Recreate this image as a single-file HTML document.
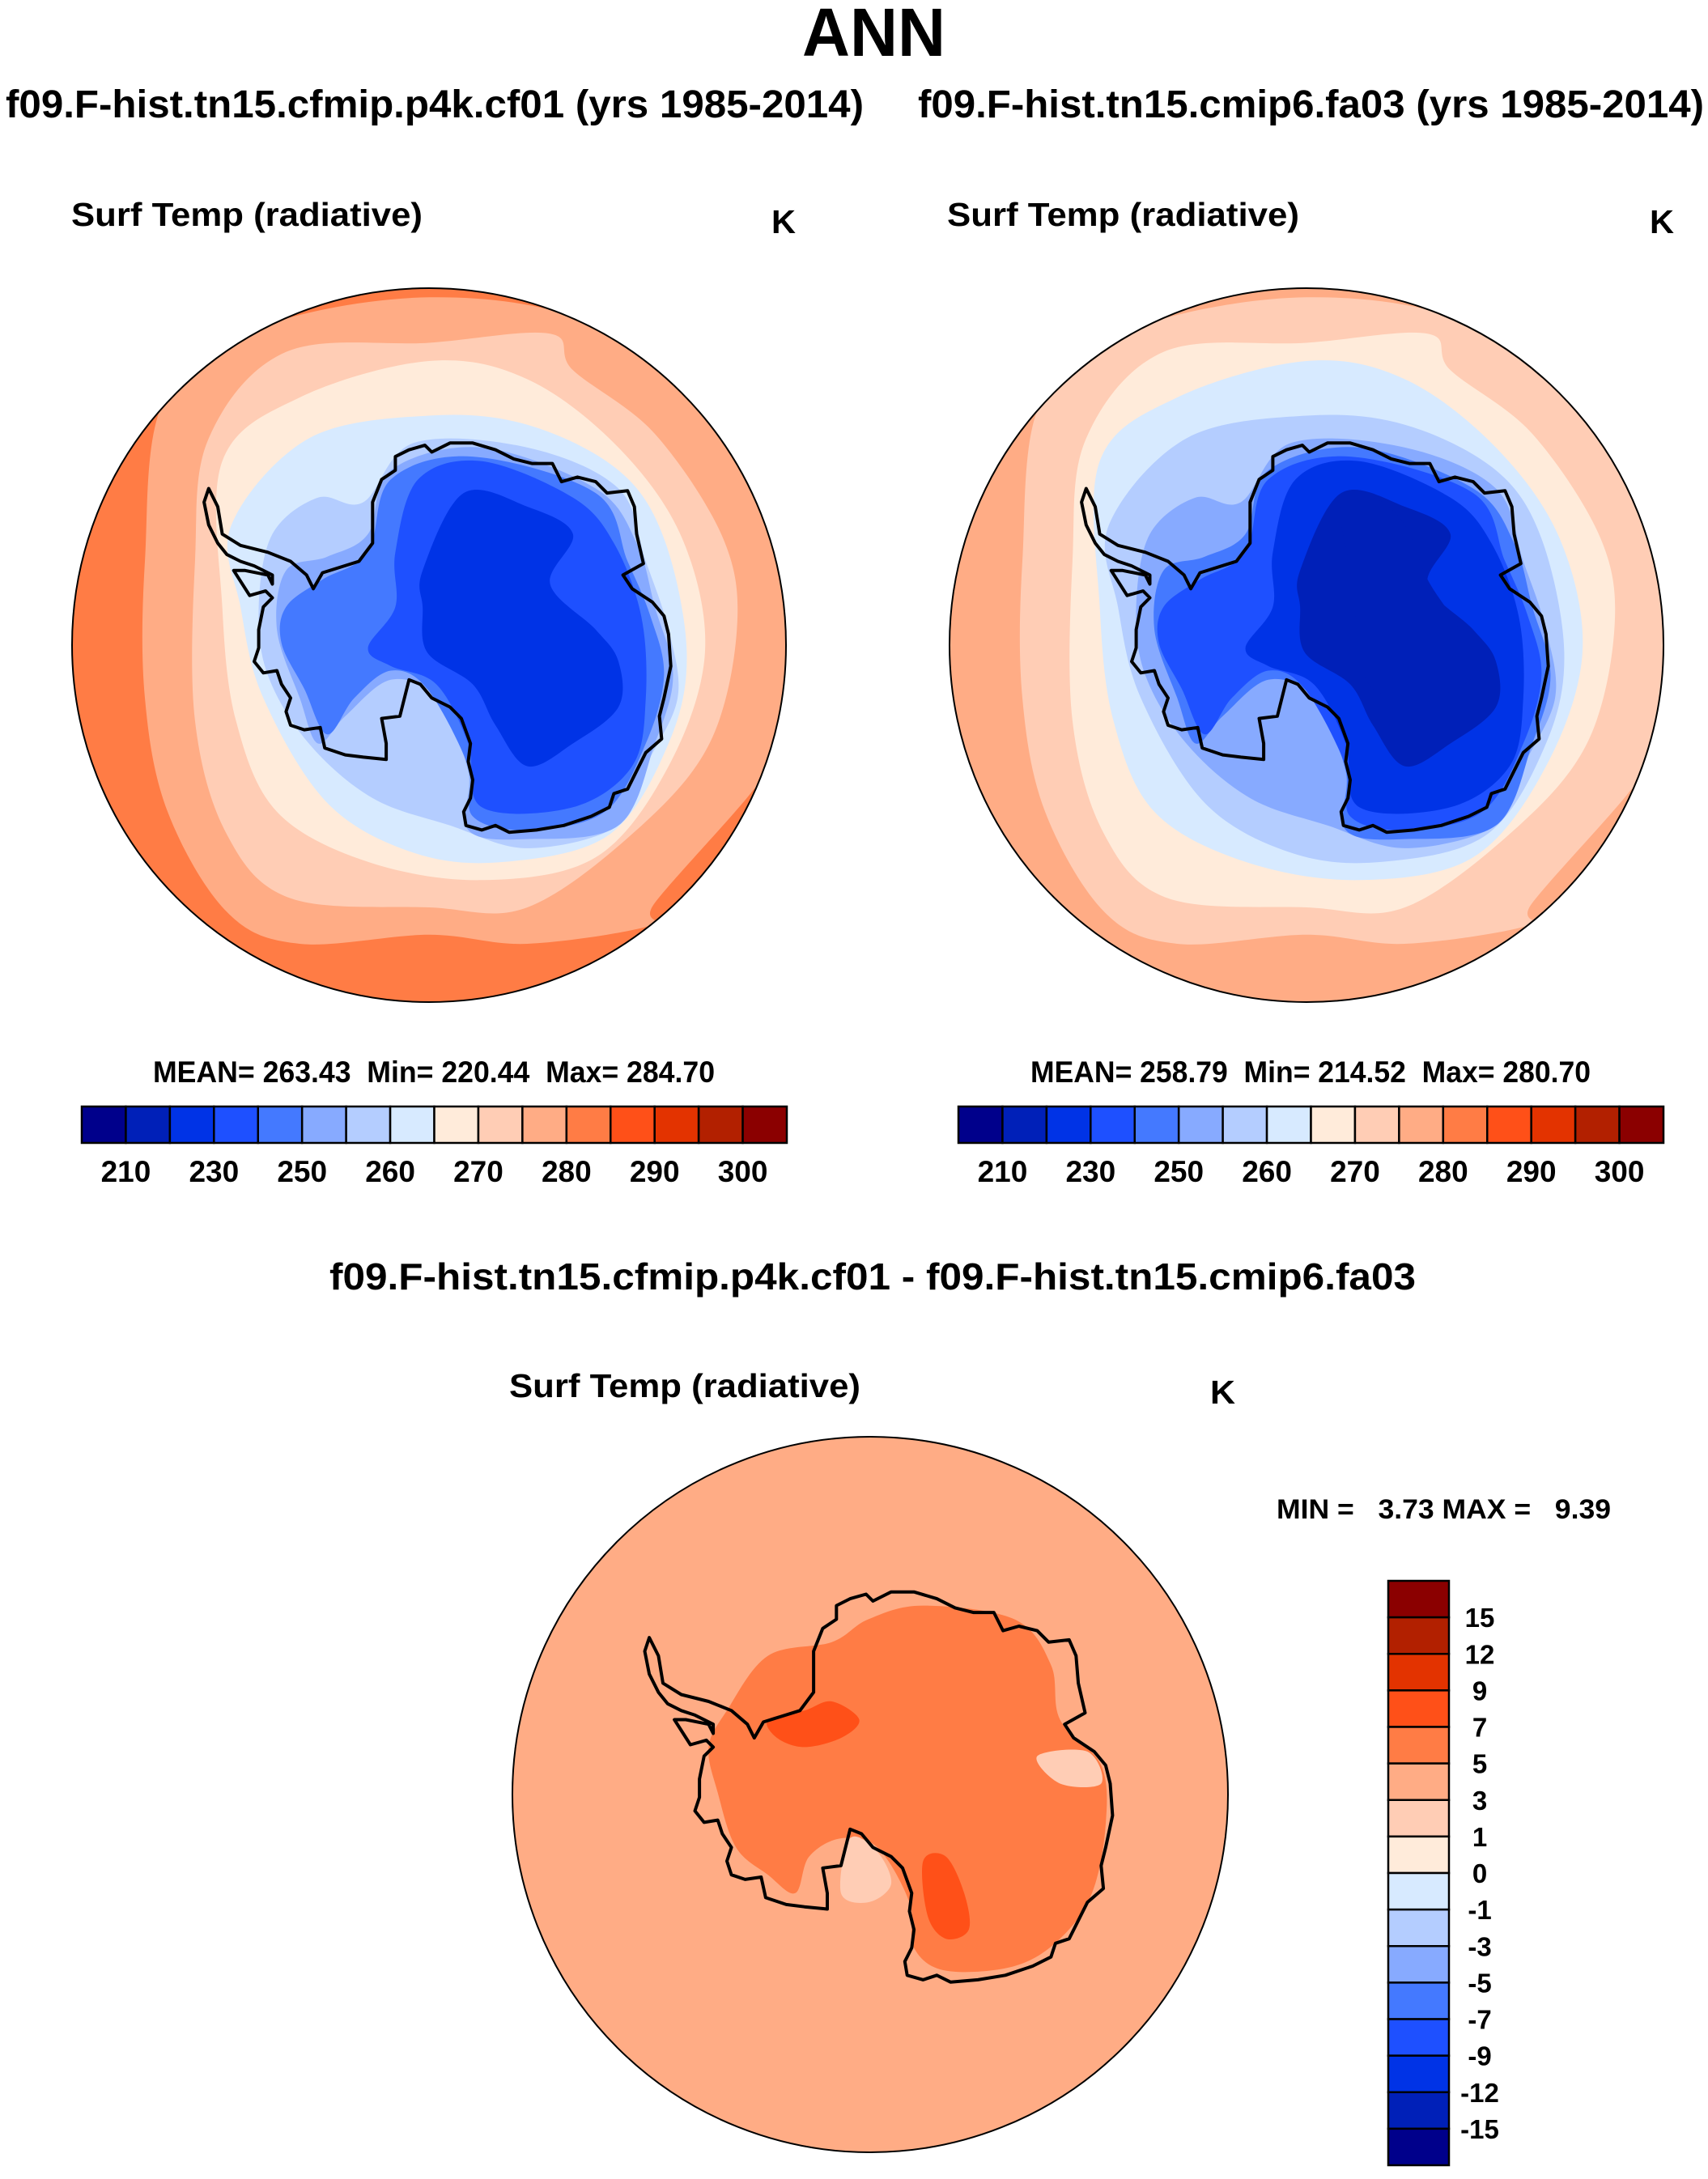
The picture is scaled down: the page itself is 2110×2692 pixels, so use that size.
<!DOCTYPE html>
<html><head><meta charset="utf-8"><style>
html,body{margin:0;padding:0;background:#fff}
svg{display:block}
text{font-family:"Liberation Sans",sans-serif;font-weight:bold;fill:#000}
</style></head><body>
<svg id="fig" width="2110" height="2692" viewBox="0 0 2110 2692" xmlns="http://www.w3.org/2000/svg">
<text x="991" y="69" font-size="84" textLength="177" lengthAdjust="spacingAndGlyphs">ANN</text>
<text x="7" y="145" font-size="48" textLength="1060" lengthAdjust="spacingAndGlyphs">f09.F-hist.tn15.cfmip.p4k.cf01 (yrs 1985-2014)</text>
<text x="1134" y="145" font-size="48" textLength="971" lengthAdjust="spacingAndGlyphs">f09.F-hist.tn15.cmip6.fa03 (yrs 1985-2014)</text>
<text x="88" y="279" font-size="41" textLength="434" lengthAdjust="spacingAndGlyphs">Surf Temp (radiative)</text>
<text x="953" y="288" font-size="41" textLength="30" lengthAdjust="spacingAndGlyphs">K</text>
<text x="1170" y="279" font-size="41" textLength="435" lengthAdjust="spacingAndGlyphs">Surf Temp (radiative)</text>
<text x="2038" y="288" font-size="41" textLength="30" lengthAdjust="spacingAndGlyphs">K</text>
<text x="189" y="1337" font-size="37" textLength="694" lengthAdjust="spacingAndGlyphs" style="white-space:pre">MEAN= 263.43  Min= 220.44  Max= 284.70</text>
<text x="1273" y="1337" font-size="37" textLength="692" lengthAdjust="spacingAndGlyphs" style="white-space:pre">MEAN= 258.79  Min= 214.52  Max= 280.70</text>
<text x="407" y="1593" font-size="46" textLength="1342" lengthAdjust="spacingAndGlyphs">f09.F-hist.tn15.cfmip.p4k.cf01 - f09.F-hist.tn15.cmip6.fa03</text>
<text x="629" y="1726" font-size="41" textLength="434" lengthAdjust="spacingAndGlyphs">Surf Temp (radiative)</text>
<text x="1495" y="1734" font-size="41" textLength="31" lengthAdjust="spacingAndGlyphs">K</text>
<text x="1577" y="1876" font-size="34" textLength="413" lengthAdjust="spacingAndGlyphs" style="white-space:pre">MIN =   3.73 MAX =   9.39</text>
<g id="maps"></g>
<g id="bars"></g>
</svg>
<script>
// Colour levels
const absColors = ["#00008B","#0020B8","#0033E6","#1E50FF","#4479FF","#87AAFF","#B4CDFF","#D7EAFF","#FFEBDA","#FFCDB5","#FFAC85","#FF7C45","#FF5018","#E33300","#B22000","#8B0000"];
const absTickValues = ["210","230","250","260","270","280","290","300"];
const absTickIndex = [1,3,5,7,9,11,13,15];
const diffColors = ["#00008B","#0020B8","#0033E6","#1E50FF","#4479FF","#87AAFF","#B4CDFF","#D7EAFF","#FFEBDA","#FFCDB5","#FFAC85","#FF7C45","#FF5018","#E33300","#B22000","#8B0000"];
const diffTickValues = ["-15","-12","-9","-7","-5","-3","-1","0","1","3","5","7","9","12","15"];

// Contour region outlines (normalised map coords, 0..1568 square)
const ringShapes = [
 [[200,250],[400,90],[784,20],[1150,80],[1450,300],[1560,600],[1560,1000],[1490,1110],[1280,1350],[1270,1400],[1000,1440],[784,1420],[500,1440],[340,1370],[210,1150],[160,900],[160,600]],
 [[300,330],[470,140],[784,120],[1050,100],[1100,180],[1280,320],[1430,550],[1460,750],[1400,1000],[1240,1190],[1000,1360],[784,1360],[480,1340],[340,1200],[270,950],[270,600]],
 [[330,380],[500,240],[784,160],[1000,200],[1200,350],[1340,550],[1390,800],[1310,1050],[1150,1250],[900,1300],[650,1260],[450,1150],[360,950],[330,700]],
 [[350,520],[520,330],[784,280],[1000,300],[1200,400],[1300,550],[1350,800],[1310,1000],[1180,1200],[950,1260],[750,1240],[560,1130],[420,900],[370,700]],
 [[440,540],[540,460],[640,470],[750,340],[1000,350],[1200,440],[1260,600],[1310,750],[1330,900],[1260,1050],[1200,1180],[1000,1230],[830,1180],[660,1120],[520,1000],[430,850],[410,700]],
 [[470,620],[560,590],[650,540],[700,400],[900,350],[1150,440],[1240,560],[1280,700],[1320,850],[1280,1000],[1200,1180],[1000,1210],[870,1190],[870,1060],[800,900],[700,860],[600,940],[540,1000],[500,900],[450,750]],
 [[470,700],[550,640],[650,580],[700,420],[880,370],[1150,450],[1220,600],[1270,720],[1300,850],[1260,1000],[1170,1150],[1000,1190],[880,1160],[870,1050],[780,880],[700,840],[620,900],[560,980],[510,880],[460,780]],
 [[650,790],[710,700],[710,580],[760,420],[900,380],[1100,460],[1190,560],[1250,720],[1260,900],[1230,1050],[1100,1140],[900,1140],[870,1000],[800,870],[700,830]],
 [[770,620],[860,450],[1000,480],[1100,540],[1050,650],[1150,750],[1200,820],[1200,920],[1100,1000],[1000,1050],[930,960],[880,870],[780,800],[770,700]],
 [[860,480],[930,460],[1000,520],[1050,640],[1120,750],[1150,850],[1050,900],[930,880],[900,780],[880,620]]
];
const leftLevels = [10,9,8,7,6,5,4,3,2];
const leftBase = 11;
const rightLevels = [9,8,7,6,5,4,3,2,1,1];
const rightBase = 10;

const coast = [[710,370],[740,355],[775,345],[790,360],[830,340],[880,340],[930,355],[970,375],[1010,385],[1055,385],[1075,425],[1110,415],[1150,425],[1175,450],[1220,445],[1235,480],[1240,540],[1255,605],[1210,630],[1230,660],[1275,690],[1300,720],[1310,760],[1315,830],[1300,900],[1290,940],[1295,990],[1260,1020],[1240,1060],[1220,1100],[1190,1110],[1180,1140],[1140,1160],[1080,1180],[1020,1190],[960,1195],[930,1180],[900,1190],[865,1180],[860,1150],[875,1120],[880,1080],[870,1040],[875,1000],[855,945],[830,920],[790,900],[765,870],[740,860],[720,940],[680,945],[690,1000],[690,1035],[640,1030],[600,1025],[555,1010],[545,965],[510,970],[480,960],[470,930],[480,900],[460,870],[450,840],[420,845],[400,820],[410,790],[410,750],[420,700],[440,680],[425,665],[390,675],[355,620],[380,620],[430,630],[440,650],[440,630],[400,610],[370,600],[340,585],[320,560],[300,520],[290,470],[300,440],[320,480],[330,540],[370,565],[430,580],[480,600],[515,630],[530,660],[550,625],[630,600],[660,560],[660,470],[680,420],[710,400]];
const diffWarm = [[560,480],[700,450],[780,400],[900,370],[1100,400],[1180,500],[1200,620],[1290,720],[1300,850],[1270,1000],[1200,1100],[1100,1160],[950,1170],[880,1120],[870,1020],[800,900],[720,880],[650,920],[620,1000],[560,960],[490,900],[450,780],[430,680],[470,600]];
const diffHot = [[[560,620],[640,600],[700,580],[760,620],[720,660],[640,680],[580,660]],[[900,930],[950,920],[990,1000],[1000,1080],[950,1100],[910,1050]]];
const diffCool = [[[1150,700],[1260,690],[1290,760],[1200,760]],[[740,880],[800,910],[830,980],[780,1020],[720,1000]]];

const NS="http://www.w3.org/2000/svg";
function el(tag,attrs,parent){const e=document.createElementNS(NS,tag);for(const k in attrs)e.setAttribute(k,attrs[k]);parent.appendChild(e);return e;}
function smooth(pts,tx){const p=pts.map(tx);const n=p.length;let d=`M${p[0][0].toFixed(1)},${p[0][1].toFixed(1)}`;
 for(let i=0;i<n;i++){const p0=p[(i-1+n)%n],p1=p[i],p2=p[(i+1)%n],p3=p[(i+2)%n];
  d+=`C${(p1[0]+(p2[0]-p0[0])/6).toFixed(1)},${(p1[1]+(p2[1]-p0[1])/6).toFixed(1)} ${(p2[0]-(p3[0]-p1[0])/6).toFixed(1)},${(p2[1]-(p3[1]-p1[1])/6).toFixed(1)} ${p2[0].toFixed(1)},${p2[1].toFixed(1)}`;}
 return d+"Z";}
function poly(pts,tx){return "M"+pts.map(tx).map(q=>q[0].toFixed(1)+","+q[1].toFixed(1)).join("L")+"Z";}

const maps=document.getElementById('maps');
function drawMap(id,cx,cy,r,draw){
 const tx=q=>[cx+(q[0]-784)/784*r, cy+(q[1]-784)/784*r];
 const cp=el('clipPath',{id:'clip'+id},maps);el('circle',{cx,cy,r},cp);
 const g=el('g',{'clip-path':`url(#clip${id})`},maps);
 
 
 el('rect',{x:cx-r,y:cy-r,width:2*r,height:2*r,fill:'#fff'},g);
 draw(g,tx);
 const c=el('path',{d:poly(coast,tx),fill:'none',stroke:'#000','stroke-width':4,'stroke-linejoin':'round'},g);
 
 
 const b=el('circle',{cx,cy,r,fill:'none',stroke:'#000','stroke-width':2},maps);
 
 
}
function contours(levels,base){return (g,tx)=>{
 el('rect',{x:0,y:0,width:2110,height:2692,fill:absColors[base]},g);
 for(let i=0;i<levels.length;i++){const p=el('path',{d:smooth(ringShapes[i],tx),fill:absColors[levels[i]]},g);
  
  }
};}
drawMap('left',530,797,441,contours(leftLevels,leftBase));
drawMap('right',1614,797,441,contours(rightLevels,rightBase));
drawMap('diff',1075,2217,442,(g,tx)=>{
 el('rect',{x:0,y:0,width:2110,height:2692,fill:diffColors[10]},g);
 const w=el('path',{d:smooth(diffWarm,tx),fill:diffColors[11]},g);
 
 
 diffHot.forEach(s=>{const p=el('path',{d:smooth(s,tx),fill:diffColors[12]},g);
  
  });
 diffCool.forEach(s=>{const p=el('path',{d:smooth(s,tx),fill:diffColors[9]},g);
  
  });
});

const bars=document.getElementById('bars');
function hbar(x0,x1,y0,y1,name){
 const n=absColors.length,w=(x1-x0)/n;
 absColors.forEach((c,i)=>{const r=el('rect',{x:x0+i*w,y:y0,width:w,height:y1-y0,fill:c,stroke:'#000','stroke-width':2.5},bars);
  
  });
 absTickValues.forEach((v,k)=>{const t=el('text',{x:x0+absTickIndex[k]*w,y:1460,'font-size':37,'text-anchor':'middle'},bars);t.textContent=v;
  
  });
}
hbar(101,972,1367,1412,'left-colorbar');
hbar(1184,2055,1367,1412,'right-colorbar');
(function(){const x0=1715,x1=1790,y0=1953,y1=2675,n=diffColors.length,h=(y1-y0)/n;
 diffColors.slice().reverse().forEach((c,i)=>{const r=el('rect',{x:x0,y:y0+i*h,width:x1-x0,height:h,fill:c,stroke:'#000','stroke-width':2.5},bars);
  
  });
 diffTickValues.slice().reverse().forEach((v,i)=>{const t=el('text',{x:1828,y:y0+(i+1)*h+12,'font-size':33,'text-anchor':'middle'},bars);t.textContent=v;
  
  });
})();
</script>
</body></html>
